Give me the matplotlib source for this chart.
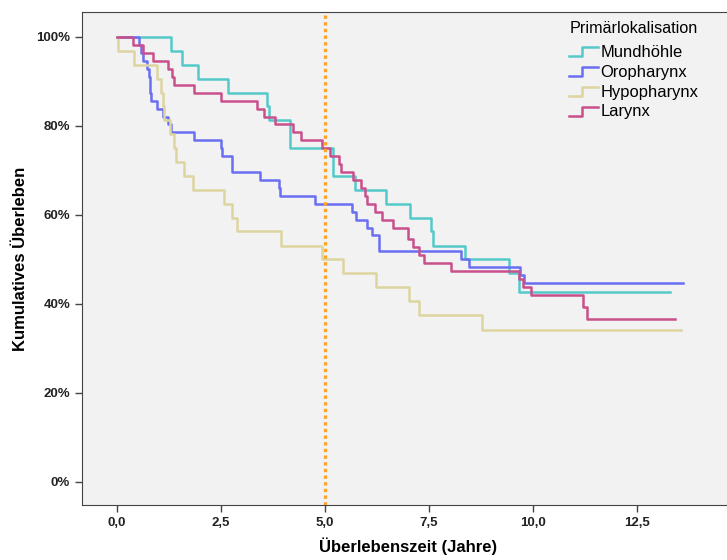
import matplotlib
matplotlib.use("Agg")
import matplotlib.pyplot as plt
from matplotlib.legend_handler import HandlerBase
from matplotlib.lines import Line2D

plt.rcParams["font.family"] = ["Liberation Sans", "DejaVu Sans"]

# Kaplan-Meier step data: event times (years) and survival level (%) after each step
groups = ["Mundhöhle", "Oropharynx", "Hypopharynx", "Larynx"]
colors = ["#55c9c9", "#6a6ff2", "#ddd5a0", "#c9508c"]

mund_t = [1.31, 1.57, 1.95, 2.66, 3.60, 3.66, 4.16, 5.20, 5.71, 6.46, 7.04, 7.55, 7.60,
          8.37, 9.42, 9.66]
mund_s = [96.9, 93.8, 90.6, 87.5, 84.4, 81.3, 75.0, 68.8, 65.6, 62.5, 59.4, 56.3, 53.1,
          50.0, 46.9, 42.7]
mund_end = 13.28

oro_t = [0.53, 0.58, 0.63, 0.72, 0.76, 0.79, 0.80, 0.83, 0.97, 1.11, 1.23, 1.31, 1.85,
         2.50, 2.53, 2.77, 3.44, 3.90, 3.93, 4.76, 5.66, 5.74, 6.00, 6.12, 6.31, 8.28,
         8.45, 9.69, 9.78]
oro_s = [98.2, 96.4, 94.6, 92.9, 91.1, 89.3, 87.5, 85.7, 83.9, 82.1, 80.4, 78.6, 76.8,
         75.0, 73.2, 69.6, 67.9, 66.1, 64.3, 62.5, 60.7, 58.9, 57.1, 55.4, 51.8, 50.0,
         48.2, 46.4, 44.6]
oro_end = 13.60

hypo_t = [0.02, 0.42, 0.96, 1.07, 1.10, 1.14, 1.27, 1.38, 1.42, 1.61, 1.82, 2.57, 2.77,
          2.89, 3.94, 4.92, 5.44, 6.22, 7.03, 7.27, 8.77]
hypo_s = [96.9, 93.8, 90.6, 87.5, 84.4, 81.3, 78.1, 75.0, 71.9, 68.8, 65.6, 62.5, 59.4,
          56.3, 53.1, 50.0, 46.9, 43.8, 40.6, 37.5, 34.2]
hypo_end = 13.56

lar_t = [0.38, 0.63, 0.87, 1.22, 1.33, 1.37, 1.86, 2.50, 3.37, 3.53, 3.80, 4.22, 4.42,
         4.94, 5.13, 5.34, 5.38, 5.68, 5.86, 5.96, 6.00, 6.20, 6.36, 6.63, 7.00, 7.12,
         7.27, 7.38, 8.04, 9.66, 9.75, 9.96, 11.19, 11.30]
lar_s = [98.2, 96.4, 94.6, 92.9, 91.1, 89.3, 87.5, 85.7, 83.9, 82.1, 80.4, 78.6, 76.8,
         75.0, 73.2, 71.4, 69.6, 67.9, 66.1, 64.3, 62.5, 60.7, 58.9, 57.1, 54.5, 52.7,
         51.0, 49.3, 47.4, 45.6, 43.8, 41.9, 39.2, 36.6]
lar_end = 13.41

series = [(mund_t, mund_s, mund_end), (oro_t, oro_s, oro_end),
          (hypo_t, hypo_s, hypo_end), (lar_t, lar_s, lar_end)]

xticks = [0, 2.5, 5, 7.5, 10, 12.5]
yticks = [0, 20, 40, 60, 80, 100]
cut_year = 5.0


class StepHandler(HandlerBase):
    def create_artists(self, legend, orig, xd, yd, w, h, fontsize, trans):
        x0 = -xd
        ln = Line2D([x0, x0 + w * 0.45, x0 + w * 0.45, x0 + w],
                    [h * 0.05, h * 0.05, h * 0.8, h * 0.8],
                    color=orig.get_color(), lw=orig.get_linewidth(), transform=trans)
        return [ln]


fig = plt.figure(figsize=(7.27, 5.6), dpi=100)
fig.patch.set_facecolor("white")
ax = fig.add_axes([82 / 727, 55 / 560, 652 / 727, 493 / 560])
ax.set_facecolor("#f2f2f2")

handles = []
for (t, s, end), name, c in zip(series, groups, colors):
    xs = [0] + t + [end]
    ys = [100] + s + [s[-1]]
    h, = ax.step(xs, ys, where="post", color=c, lw=1.8, label=name, zorder=3)
    handles.append(h)

ax.axvline(cut_year, color="#ffa526", lw=2.4, ls=(0, (1, 1)), zorder=4)

ax.set_xlim(-0.84, 14.83)
ax.set_ylim(-5.2, 105.6)
ax.set_xticks(xticks)
ax.set_xticklabels([f"{v:.1f}".replace(".", ",") for v in xticks], fontsize=9.5,
                   fontweight="bold", color="#222")
ax.set_yticks(yticks)
ax.set_yticklabels([f"{v}%" for v in yticks], fontsize=9.5, fontweight="bold", color="#222")
ax.tick_params(direction="out", length=5, width=1, color="#444")
for sp in ax.spines.values():
    sp.set_color("#444")
ax.spines["right"].set_visible(False)

ax.set_xlabel("Überlebenszeit (Jahre)", fontsize=12, fontweight="bold", labelpad=6)
ax.set_ylabel("Kumulatives Überleben", fontsize=12, fontweight="bold", labelpad=6)

leg = ax.legend(handles=handles, title="Primärlokalisation", loc="upper left",
                bbox_to_anchor=(0.731, 1.003), frameon=False, fontsize=11.9,
                title_fontsize=11.6, handler_map={Line2D: StepHandler()},
                handlelength=1.75, handletextpad=0.12, labelspacing=0.3,
                borderaxespad=0.25)
leg._legend_box.align = "left"
leg._legend_box.sep = 6

fig.savefig("out.png", dpi=100)
